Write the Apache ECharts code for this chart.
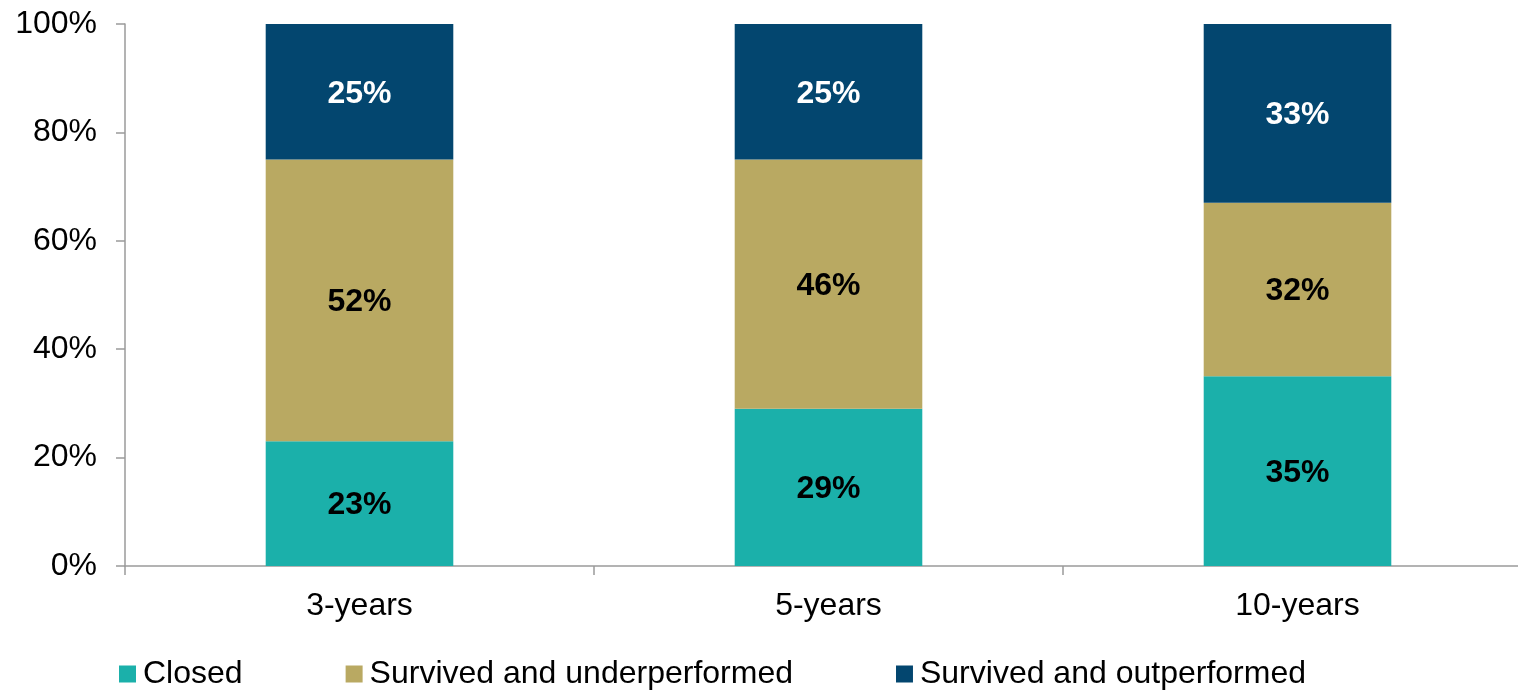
<!DOCTYPE html>
<html>
<head>
<meta charset="utf-8">
<script src="https://cdn.jsdelivr.net/npm/echarts@6/dist/echarts.min.js"></script>
<style>
  html, body { margin: 0; padding: 0; background: #ffffff; overflow: hidden; }
  /* the plot area runs a little past the right edge of the window */
  #chart { width: 1532px; height: 690px; }
</style>
</head>
<body>
<div id="chart"></div>
<script>
// Fund outcomes over different horizons (share of funds, %)
const categories = ['3-years', '5-years', '10-years'];
const closed = [23, 29, 35];
const survivedUnder = [52, 46, 32];
const survivedOut = [25, 25, 33];
const seriesNames = ['Closed', 'Survived and underperformed', 'Survived and outperformed'];
const yTicks = [0, 20, 40, 60, 80, 100];

const colors = ['#1BB0AA', '#B9A962', '#03466F'];
const font = 'Liberation Sans, Arial, sans-serif';
const axisGrey = '#9a9a9a';

function barSeries(name, data, color, labelColor) {
  return {
    name: name,
    type: 'bar',
    stack: 'total',
    barWidth: '40%',
    data: data,
    itemStyle: { color: color },
    label: {
      show: true,
      position: 'inside',
      offset: [0, 2],
      formatter: p => p.value + '%',
      color: labelColor,
      fontFamily: font,
      fontWeight: 'bold',
      fontSize: 32
    }
  };
}

const chart = echarts.init(document.getElementById('chart'), null, { renderer: 'canvas' });
chart.setOption({
  animation: false,
  backgroundColor: '#ffffff',
  color: colors,
  grid: { left: 125, top: 24, bottom: 124, right: 0, containLabel: false },
  legend: {
    left: 119,
    top: 658,
    padding: 0,
    icon: 'rect',
    itemWidth: 17,
    itemHeight: 17,
    itemGap: 103,
    data: seriesNames,
    textStyle: { fontFamily: font, fontSize: 32, color: '#000000', padding: [0, 0, 0, 2] }
  },
  xAxis: {
    type: 'category',
    data: categories,
    axisLine: { lineStyle: { color: axisGrey, width: 1.5 } },
    axisTick: { show: true, length: 9, lineStyle: { color: axisGrey, width: 1.5 } },
    axisLabel: { fontFamily: font, fontSize: 32, color: '#000000', margin: 24 }
  },
  yAxis: {
    type: 'value',
    min: 0,
    max: 100,
    interval: 20,
    splitLine: { show: false },
    axisLine: { show: true, lineStyle: { color: axisGrey, width: 1.5 } },
    axisTick: { show: true, length: 9, lineStyle: { color: axisGrey, width: 1.5 } },
    axisLabel: {
      fontFamily: font, fontSize: 32, color: '#000000', margin: 28,
      customValues: yTicks,
      formatter: v => v + '%'
    }
  },
  series: [
    barSeries(seriesNames[0], closed, colors[0], '#000000'),
    barSeries(seriesNames[1], survivedUnder, colors[1], '#000000'),
    barSeries(seriesNames[2], survivedOut, colors[2], '#ffffff')
  ]
});
</script>
</body>
</html>
